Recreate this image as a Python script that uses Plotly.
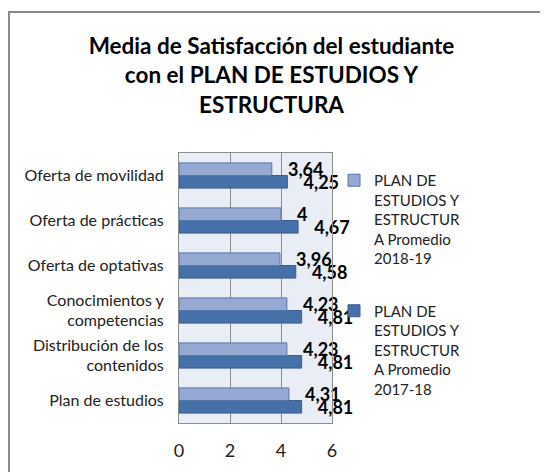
import plotly.graph_objects as go

categories = [
    "Plan de estudios",
    "Distribución de los<br>contenidos",
    "Conocimientos y<br>competencias",
    "Oferta de optativas",
    "Oferta de prácticas",
    "Oferta de movilidad",
]
values_2018_19 = [4.31, 4.23, 4.23, 3.96, 4.0, 3.64]
values_2017_18 = [4.81, 4.81, 4.81, 4.58, 4.67, 4.25]
name_2018_19 = "PLAN DE<br>ESTUDIOS Y<br>ESTRUCTUR<br>A Promedio<br>2018-19"
name_2017_18 = "PLAN DE<br>ESTUDIOS Y<br>ESTRUCTUR<br>A Promedio<br>2017-18"
x_ticks = [0, 2, 4, 6]
title_text = "Media de Satisfacción del estudiante<br>con el PLAN DE ESTUDIOS Y<br>ESTRUCTURA"

# the page body adds an 8px margin, so the figure is 8px smaller than the window
W, H = 540, 464
PL, PR, PT, PB = 171, 324, 145, 415  # plot area edges in figure pixels
ML, MR, MT, MB = PL, W - PR, PT, H - PB
FONT = "Lato"


def fmt(v):
    return "\u00a0\u00a0\u00a0" + f"{v:g}".replace(".", ",")


fig = go.Figure()
fig.add_trace(go.Bar(
    y=categories, x=values_2017_18, orientation="h", name=name_2017_18,
    marker=dict(color="#4670A8", line=dict(color="#3A5F8E", width=1)),
    text=[fmt(v) for v in values_2017_18], textposition="outside",
    textfont=dict(family=FONT, size=18, color="black", weight="bold"),
    constraintext="none", cliponaxis=False, legendgroup="a", legendrank=2,
))
fig.add_trace(go.Bar(
    y=categories, x=values_2018_19, orientation="h", name=name_2018_19,
    marker=dict(color="#95A9D2", line=dict(color="#5677AD", width=1)),
    text=[fmt(v) for v in values_2018_19], textposition="outside",
    textfont=dict(family=FONT, size=18, color="black", weight="bold"),
    constraintext="none", cliponaxis=False, legendgroup="b", legendrank=1,
))

pw = W - ML - MR
ph = H - MT - MB


def px_x(p):
    return (p - ML) / pw


def px_y(p):
    return (H - MB - p) / ph


fig.update_layout(
    width=W, height=H,
    margin=dict(l=ML, r=MR, t=MT, b=MB, autoexpand=False),
    paper_bgcolor="white", plot_bgcolor="#E9EDF5",
    barmode="group", bargap=0.44, bargroupgap=0,
    font=dict(family=FONT, color="#222222"),
    title=dict(text=title_text, x=263.5 / W, xanchor="center", y=1 - 46 / H, yanchor="top",
               yref="container",
               font=dict(family=FONT, size=22.5, color="black", weight="bold")),
    showlegend=True,
    legend=dict(x=px_x(326), xanchor="left", y=px_y(156), yanchor="top",
                traceorder="grouped", tracegroupgap=30, valign="top",
                font=dict(family=FONT, size=15, color="#222222"),
                itemwidth=30, bgcolor="rgba(0,0,0,0)"),
    xaxis=dict(range=[0, 6], tickvals=x_ticks, ticktext=[str(t) for t in x_ticks],
               showgrid=True, gridcolor="#8C8C8C", gridwidth=1,
               showline=True, linecolor="#8C8C8C", mirror=True, linewidth=1,
               zeroline=False, ticks="", tickfont=dict(family=FONT, size=18, color="#222222"),
               ticklabelstandoff=11, fixedrange=True),
    yaxis=dict(showline=True, linecolor="#8C8C8C", mirror=True, linewidth=1,
               ticks="", tickfont=dict(family=FONT, size=16, color="#222222"),
               ticklabelstandoff=11, fixedrange=True),
    shapes=[dict(type="rect", xref="paper", yref="paper",
                 x0=px_x(1), x1=px_x(W + 20), y0=px_y(H + 20), y1=px_y(4),
                 line=dict(color="#8A8A8A", width=2), fillcolor="rgba(0,0,0,0)",
                 layer="below")],
)

fig.write_html("out.html")
